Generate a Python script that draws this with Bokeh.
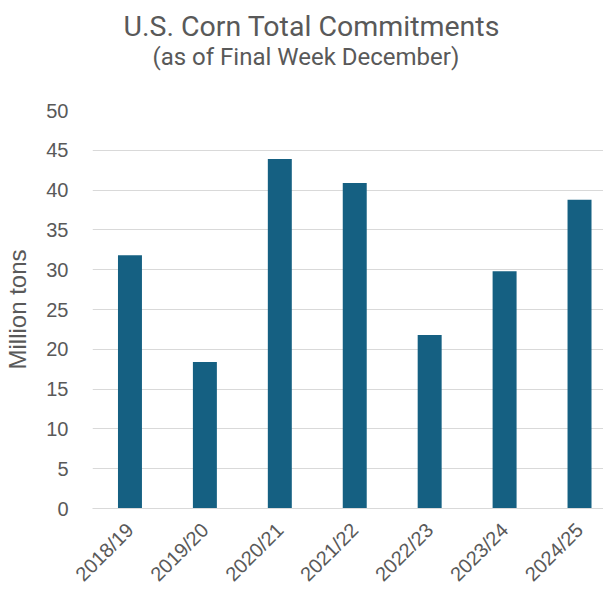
import math
from bokeh.plotting import figure
from bokeh.models import Range1d, FixedTicker, Title, ColumnDataSource
from bokeh.embed import file_html
from bokeh.resources import INLINE

seasons = ["2018/19", "2019/20", "2020/21", "2021/22", "2022/23", "2023/24", "2024/25"]
commitments = [31.8, 18.4, 43.9, 40.9, 21.8, 29.8, 38.8]
y_ticks = [0, 5, 10, 15, 20, 25, 30, 35, 40, 45, 50]

GREY = "#595959"
BAR = "#156082"

pos = list(range(len(seasons)))
src = ColumnDataSource(data=dict(x=pos, season=seasons, value=commitments))

p = figure(x_range=Range1d(-0.5, 6.32),
           y_range=Range1d(0, 50),
           width=603, height=596,
           output_backend="svg", toolbar_location=None,
           min_border_left=92, min_border_right=0,
           min_border_top=109, min_border_bottom=88,
           outline_line_color=None)

p.title.text = "U.S. Corn Total Commitments"
p.title.align = "left"
p.title.offset = 31
p.title.standoff = -84
p.title.text_font = "Roboto"
p.title.text_font_size = "28.5px"
p.title.text_font_style = "normal"
p.title.text_color = GREY

sub = Title(text="(as of Final Week December)", align="left", offset=60,
            standoff=80, text_font="Roboto", text_font_size="24px",
            text_font_style="normal", text_color=GREY)
p.add_layout(sub, "above")

p.vbar(x="x", top="value", width=0.32, source=src,
       fill_color=BAR, line_color=None)

p.xgrid.grid_line_color = None
p.ygrid.grid_line_color = "#d9d9d9"
p.ygrid.grid_line_width = 1

p.yaxis.ticker = FixedTicker(ticks=y_ticks)
p.yaxis.axis_line_color = None
p.yaxis.major_tick_line_color = None
p.yaxis.minor_tick_line_color = None
p.yaxis.major_tick_out = 0
p.yaxis.major_tick_in = 0
p.yaxis.major_label_standoff = 24
p.yaxis.major_label_text_font = "Liberation Sans"
p.yaxis.major_label_text_font_size = "20px"
p.yaxis.major_label_text_color = GREY
p.yaxis.axis_label = "Million tons"
p.yaxis.axis_label_text_font = "Liberation Sans"
p.yaxis.axis_label_text_font_size = "24px"
p.yaxis.axis_label_text_font_style = "normal"
p.yaxis.axis_label_text_color = GREY
p.yaxis.axis_label_standoff = 12

p.xaxis.ticker = FixedTicker(ticks=pos)
p.xaxis.major_label_overrides = {i: s for i, s in zip(pos, seasons)}
p.xaxis.axis_line_color = "#d9d9d9"
p.xaxis.axis_line_width = 1
p.xaxis.major_tick_line_color = None
p.xaxis.minor_tick_line_color = None
p.xaxis.major_tick_out = 0
p.xaxis.major_tick_in = 0
p.xaxis.major_label_orientation = math.pi / 4
p.xaxis.major_label_standoff = 18
p.xaxis.major_label_text_font = "Liberation Sans"
p.xaxis.major_label_text_font_size = "20px"
p.xaxis.major_label_text_color = GREY

open("out.html", "w").write(file_html(p, INLINE))
